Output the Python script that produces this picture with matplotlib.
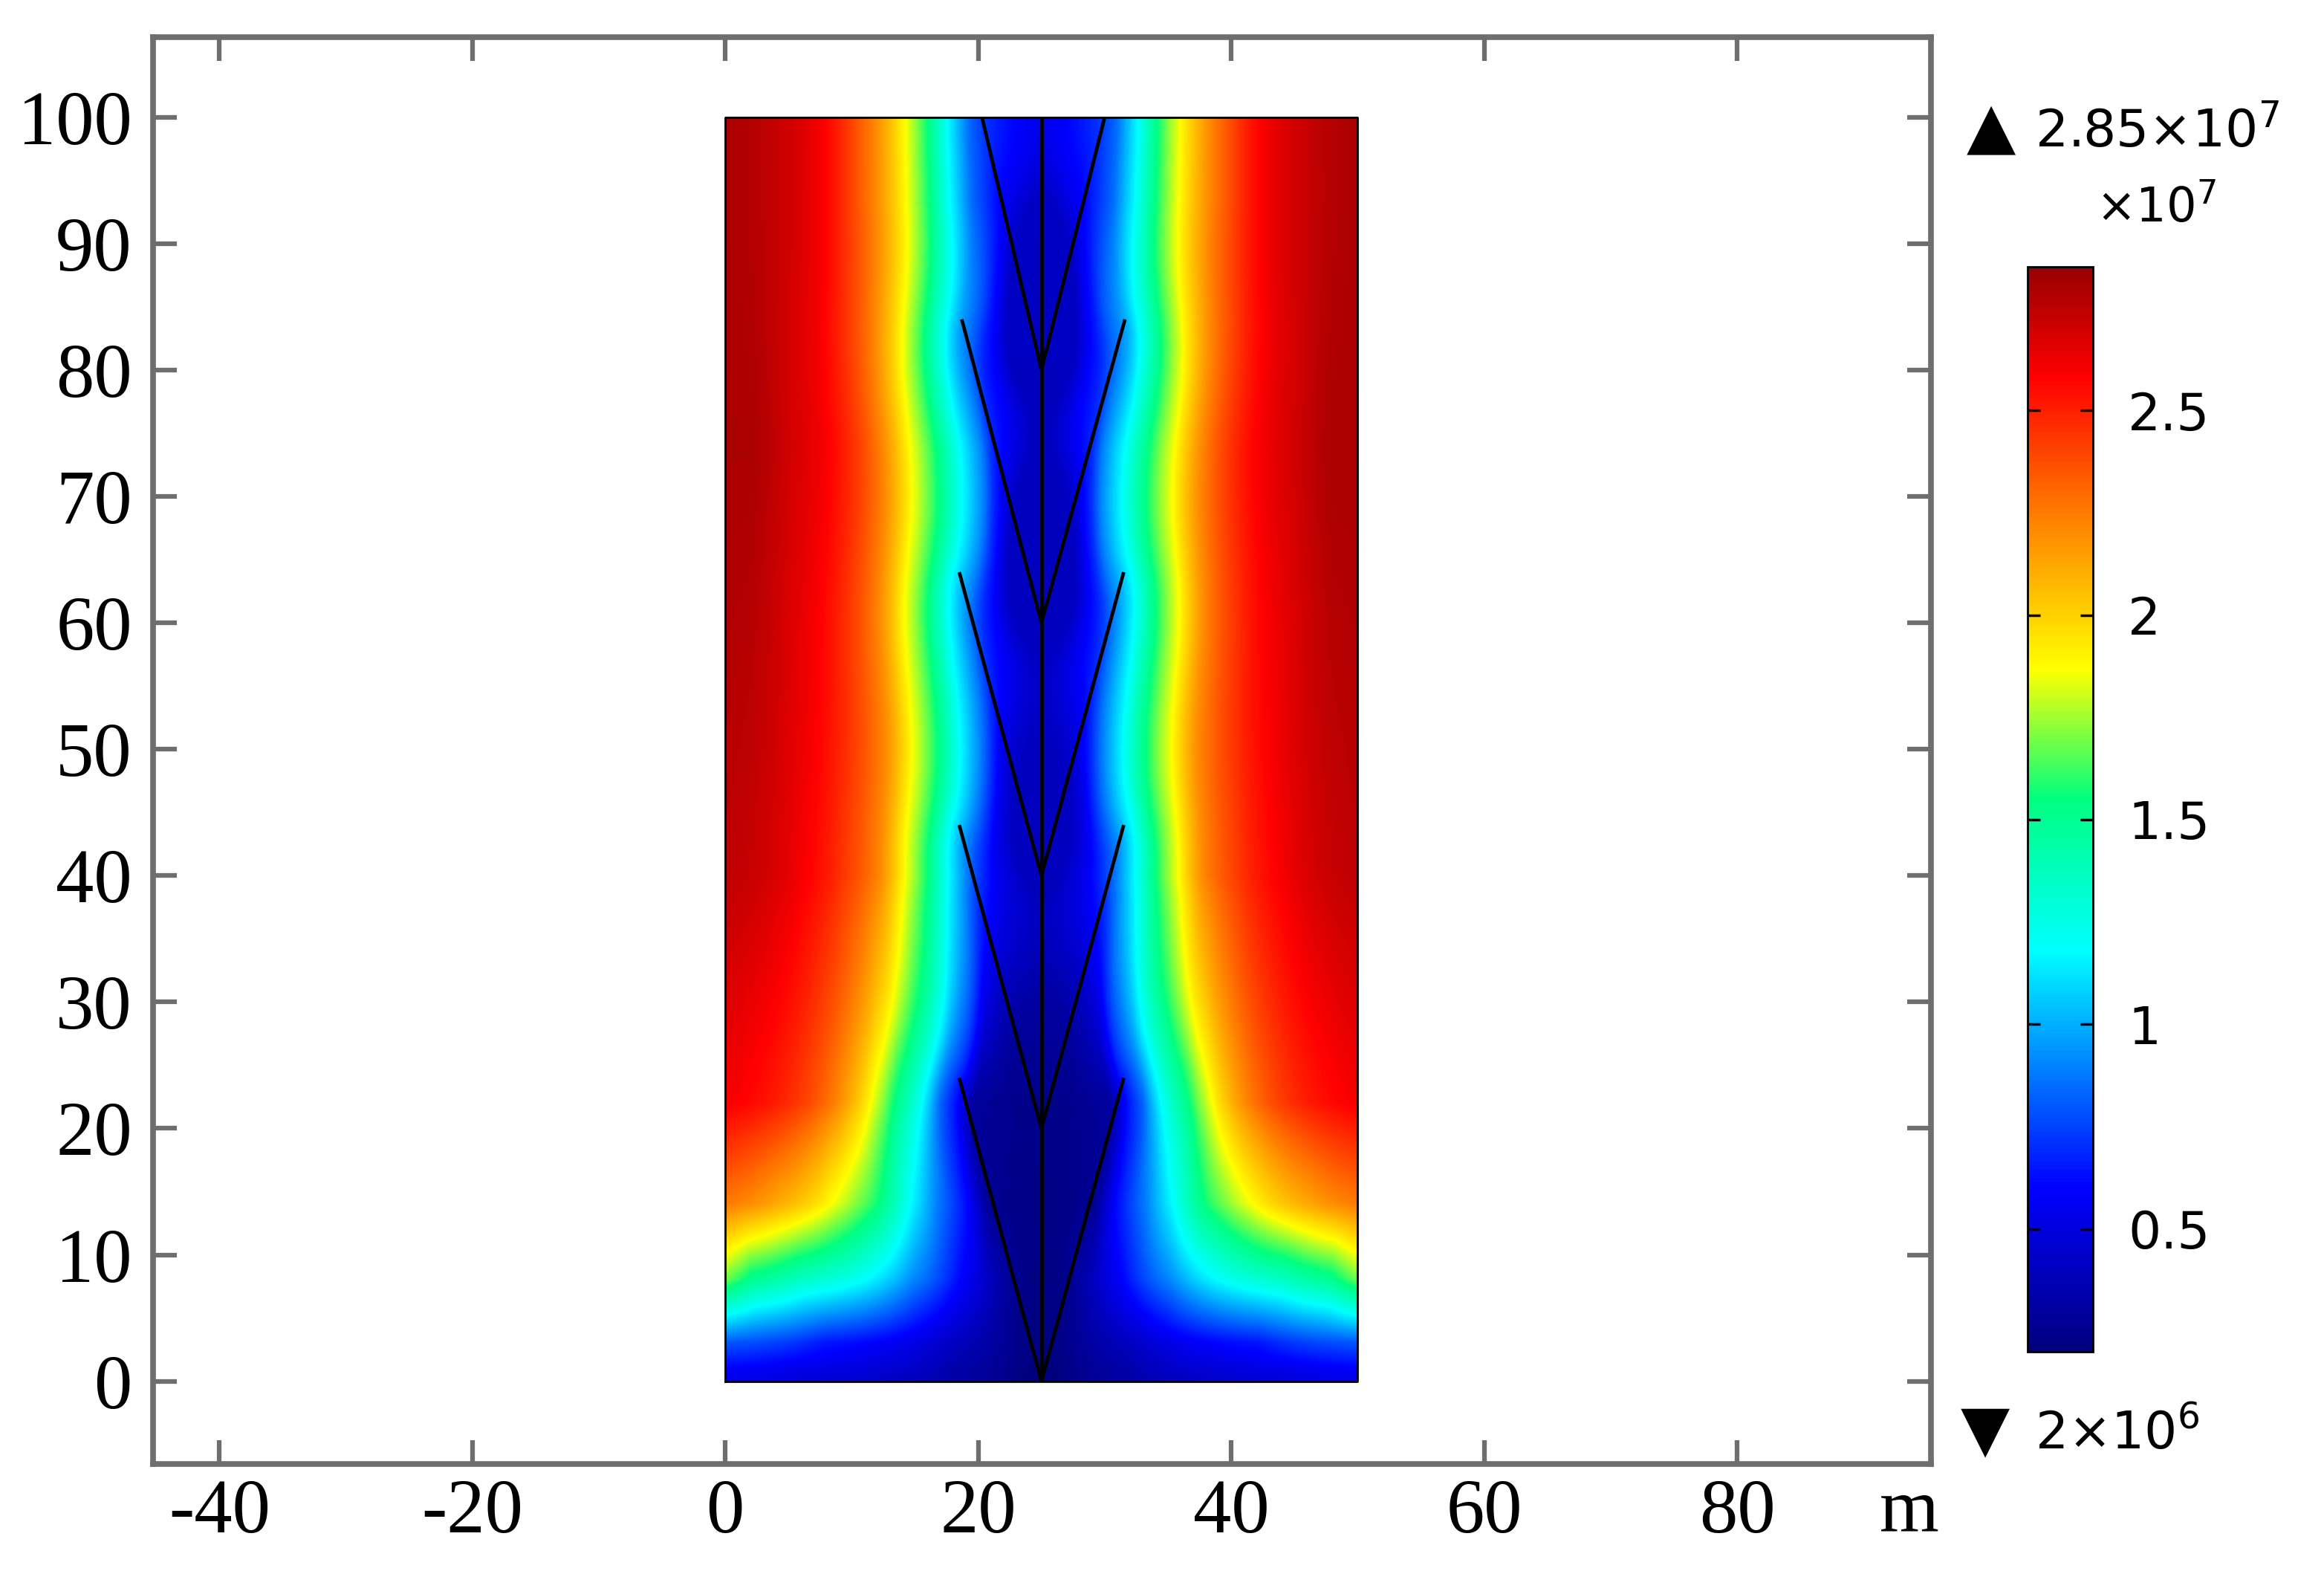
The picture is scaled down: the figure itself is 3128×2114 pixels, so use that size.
import numpy as np
import matplotlib
matplotlib.use("Agg")
import matplotlib.pyplot as plt
from matplotlib.colors import LinearSegmentedColormap

plt.rcParams["font.family"] = ["Liberation Serif", "DejaVu Serif"]
plt.rcParams["axes.unicode_minus"] = False
plt.rcParams["mathtext.fontset"] = "dejavusans"

# ---- fracture geometry (m) ----
main_x = 25.0
main_y = [0, 100]
branch_root_y = [0, 20, 40, 60, 80]
branch_tip_y = [24, 44, 64, 84, 100]
branch_tip_left_x = [18.5, 18.5, 18.5, 18.7, 20.3]
branch_tip_right_x = [31.5, 31.5, 31.5, 31.6, 30.0]

# ---- colour readings along horizontal rows, left half (values in 1e7) ----
row_y = [0.5, 3.0, 8.0, 14.0, 22.0, 40.0, 74.0, 93.5]
row_x = [
    [0, 6, 12, 18, 22, 24.3],
    [0, 4, 7.8, 11.7, 17.6, 21.5, 23.8],
    [0, 2, 5.9, 11, 14.7, 18.6, 21.5, 24],
    [0, 3.9, 8.4, 10.4, 12.1, 14.5, 16.6, 19.2, 20.7, 23.5],
    [0, 5.9, 8.4, 11, 11.5, 13.3, 15.5, 17, 18.4, 19.6, 23],
    [0, 3, 6, 9.5, 12.3, 14.2, 16.0, 17.5, 19.3, 21.5, 23.5],
    [0, 2, 4.9, 7.8, 10.4, 12.5, 14.6, 16.6, 18.4, 20.2, 21.0, 22.0, 24.2],
    [0, 3, 7.5, 10.4, 11.9, 14.3, 16.1, 17.6, 19.4, 22.5, 24.3],
]
row_val = [
    [0.55, 0.5, 0.45, 0.33, 0.25, 0.2],
    [0.8, 0.75, 0.65, 0.6, 0.42, 0.3, 0.22],
    [1.68, 1.5, 1.35, 1.19, 0.92, 0.6, 0.35, 0.22],
    [2.25, 2.12, 1.86, 1.7, 1.55, 1.19, 0.9, 0.6, 0.28, 0.22],
    [2.6, 2.42, 2.25, 1.95, 1.86, 1.55, 1.19, 0.82, 0.6, 0.3, 0.24],
    [2.75, 2.7, 2.6, 2.42, 2.2, 1.86, 1.55, 1.2, 0.85, 0.55, 0.4],
    [2.8, 2.8, 2.7, 2.6, 2.42, 2.2, 1.86, 1.55, 1.2, 0.9, 0.7, 0.6, 0.4],
    [2.8, 2.75, 2.6, 2.35, 2.2, 1.86, 1.55, 1.2, 0.85, 0.55, 0.42],
]

cbar_min, cbar_max = 0.2, 2.85
cbar_ticks = [0.5, 1, 1.5, 2, 2.5]
cbar_labels = ["0.5", "1", "1.5", "2", "2.5"]
x_ticks = [-40, -20, 0, 20, 40, 60, 80]
y_ticks = [0, 10, 20, 30, 40, 50, 60, 70, 80, 90, 100]

# COMSOL-like rainbow
cmap_pos = [0.0, 0.15, 0.37, 0.51, 0.63, 0.77, 0.90, 1.0]
cmap_col = [(0, 0, 0.5), (0, 0, 1), (0, 1, 1), (0, 1, 0.5),
            (1, 1, 0), (1, 0.5, 0), (1, 0, 0), (0.6, 0, 0)]
rainbow = LinearSegmentedColormap.from_list("rainbow_c", list(zip(cmap_pos, cmap_col)))


segments = [((main_x, main_y[0]), (main_x, main_y[1]))]
for y0, y1, xl, xr in zip(branch_root_y, branch_tip_y, branch_tip_left_x, branch_tip_right_x):
    segments.append(((main_x, y0), (xl, y1)))
    segments.append(((main_x, y0), (xr, y1)))


def sample_segments(segs, step=0.3):
    xs, ys, ws = [], [], []
    for (x0, y0), (x1, y1) in segs:
        length = np.hypot(x1 - x0, y1 - y0)
        n = int(np.ceil(length / step))
        t = (np.arange(n) + 0.5) / n
        xs.append(x0 + t * (x1 - x0))
        ys.append(y0 + t * (y1 - y0))
        ws.append(np.full(n, length / n))
    xs, ys, ws = np.concatenate(xs), np.concatenate(ys), np.concatenate(ws)
    # mirror images across the bottom and top boundaries
    return (np.concatenate([xs, xs, xs]),
            np.concatenate([ys, -ys, 200 - ys]),
            np.concatenate([ws, ws, ws]))


src_x, src_y, src_w = sample_segments(segments)


def closeness(px, py, lam=4.5, chunk=2000):
    """Sum of exp(-r/lam) over the fracture network (bigger = nearer)."""
    px, py = np.ravel(px), np.ravel(py)
    out = np.empty(px.size)
    for i in range(0, px.size, chunk):
        dx = px[i:i + chunk, None] - src_x
        dy = py[i:i + chunk, None] - src_y
        out[i:i + chunk] = (src_w * np.exp(-np.sqrt(dx * dx + dy * dy) / lam)).sum(axis=1)
    return out


gx = np.linspace(0, 50, 201)
gy = np.linspace(0, 100, 401)
GX, GY = np.meshgrid(gx, gy)
c_grid = closeness(GX, GY)

# one closeness -> value map per read row, then blend the maps in y
row_maps = []
for y, xs, vs in zip(row_y, row_x, row_val):
    c_row = closeness(np.array(xs, float), np.full(len(xs), y))
    order = np.argsort(c_row)
    vals = np.minimum.accumulate(np.array(vs)[order])
    row_maps.append(np.interp(c_grid, c_row[order], vals).reshape(GX.shape))
row_maps = np.array(row_maps)

t = np.interp(gy, row_y, np.arange(len(row_y)))
k0 = np.minimum(np.floor(t).astype(int), len(row_y) - 2)
f = (t - k0)[:, None]
rows = np.arange(len(gy))
field = row_maps[k0, rows, :] * (1 - f) + row_maps[k0 + 1, rows, :] * f
field = np.clip(field, cbar_min, cbar_max)

fig = plt.figure(figsize=(31.28, 21.14), dpi=100)
ax = fig.add_axes([0.0657, 0.0679, 0.7653, 0.9085])
im = ax.imshow(field, extent=[0, 50, 0, 100], origin="lower", cmap=rainbow,
               vmin=cbar_min, vmax=cbar_max, interpolation="bilinear", zorder=1)
ax.plot([0, 50, 50, 0, 0], [0, 0, 100, 100, 0], color="black", lw=2, zorder=3)
for (x0, y0), (x1, y1) in segments:
    ax.plot([x0, x1], [y0, y1], color="black", lw=3.4, zorder=4, solid_capstyle="butt")

ax.set_xlim(-45.27, 95.35)
ax.set_ylim(-6.57, 106.33)
ax.set_aspect("auto")
ax.set_xticks(x_ticks)
ax.set_yticks(y_ticks)
grey = "#6e6e6e"
for s in ax.spines.values():
    s.set_color(grey)
    s.set_linewidth(5.5)
ax.tick_params(direction="in", length=23, width=4.5, color=grey, top=True, right=True,
               labelsize=74, labelcolor="black")
ax.tick_params(axis="x", pad=14)
ax.tick_params(axis="y", pad=20)
fig.text(0.8214, 0.0255, "m", fontsize=74, ha="center", va="baseline")

cax = fig.add_axes([0.8724, 0.1396, 0.0281, 0.6904])
cb = fig.colorbar(im, cax=cax, ticks=cbar_ticks)
cb.set_ticklabels(cbar_labels)
cb.outline.set_linewidth(2)
cb.ax.tick_params(direction="in", length=12, width=2.5, left=True, right=True,
                  labelsize=50, pad=34)
for lab in cb.ax.get_yticklabels():
    lab.set_fontfamily("DejaVu Sans")

sans = dict(fontfamily="DejaVu Sans", fontsize=50, va="baseline")
fig.text(0.8463, 0.9066, "\u25B2", fontfamily="DejaVu Sans", fontsize=62, va="baseline")
fig.text(0.8757, 0.9066, r"2.85$\times$10$^7$", **sans)
fig.text(0.9018, 0.8585, r"$\times$10$^7$", fontfamily="DejaVu Sans", fontsize=46, va="baseline")
fig.text(0.8435, 0.0774, "\u25BC", fontfamily="DejaVu Sans", fontsize=62, va="baseline")
fig.text(0.8757, 0.0774, r"2$\times$10$^6$", **sans)

fig.savefig("out.png", dpi=100)
